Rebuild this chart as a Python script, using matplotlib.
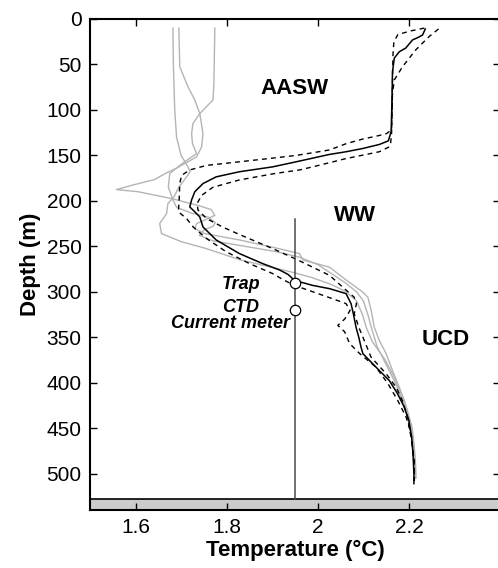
import matplotlib
matplotlib.use("Agg")
import matplotlib.pyplot as plt
import numpy as np

plt.rcParams['font.family'] = ['Liberation Sans', 'DejaVu Sans']

# ---------------- data ----------------
mean_depth = [11, 17.6, 20.6, 23, 32, 36, 43, 58, 87, 124, 134, 138, 142.5, 146, 149, 153, 157,
              162.6, 168, 173.6, 181, 190, 199, 206.7, 212, 217.7, 228.7, 243, 258, 269, 276,
              281, 287.5, 293, 296.6, 302, 313, 324, 339, 350, 361, 368, 383, 397.6, 412, 427,
              441.6, 460, 478, 500, 511]
mean_temp = [2.236, 2.230, 2.219, 2.208, 2.193, 2.179, 2.168, 2.164, 2.163, 2.161, 2.155, 2.135,
             2.098, 2.062, 2.025, 1.989, 1.953, 1.901, 1.828, 1.777, 1.748, 1.730, 1.723, 1.719,
             1.730, 1.741, 1.748, 1.777, 1.828, 1.879, 1.916, 1.935, 1.949, 1.989, 2.026, 2.062,
             2.073, 2.078, 2.084, 2.090, 2.095, 2.099, 2.128, 2.157, 2.175, 2.190, 2.200, 2.206,
             2.209, 2.211, 2.211]

lo_depth = [10, 13, 17, 25, 40, 69, 106, 122, 126, 128, 132, 137, 144, 147, 150, 153, 157, 161,
            166, 172, 181, 196, 212, 219.5, 229, 241.5, 256, 269, 280, 287, 293, 300, 306.5,
            313, 320.5, 330, 337, 344, 357, 368, 383, 401, 420, 438, 456, 471, 489, 508]
lo_temp = [2.234, 2.205, 2.176, 2.167, 2.165, 2.164, 2.163, 2.162, 2.151, 2.136, 2.099, 2.063,
           2.026, 1.990, 1.953, 1.901, 1.829, 1.756, 1.719, 1.701, 1.697, 1.696, 1.694, 1.712,
           1.727, 1.756, 1.799, 1.850, 1.901, 1.925, 1.949, 1.989, 2.026, 2.062, 2.071, 2.059,
           2.044, 2.059, 2.070, 2.092, 2.128, 2.154, 2.176, 2.194, 2.205, 2.208, 2.211, 2.212]

hi_depth = [11, 19.5, 34, 52.5, 67, 82, 126, 136, 140.6, 146, 153.5, 162.6, 166, 170, 177, 185,
            194, 203, 210, 219.5, 229, 237, 252.5, 265, 273, 282, 295, 306, 313, 324, 339,
            353.5, 372, 390, 405, 420, 438, 464, 486, 508]
hi_temp = [2.265, 2.244, 2.215, 2.186, 2.168, 2.164, 2.162, 2.160, 2.157, 2.135, 2.062, 1.989,
           1.960, 1.905, 1.828, 1.770, 1.745, 1.735, 1.737, 1.756, 1.792, 1.828, 1.901, 1.956,
           1.989, 2.026, 2.055, 2.080, 2.085, 2.080, 2.090, 2.102, 2.117, 2.150, 2.172, 2.186,
           2.197, 2.206, 2.212, 2.212]

g1_depth = [10, 50, 100, 130, 150, 160, 168, 175, 185, 195, 203, 214, 225, 236, 245, 252, 258,
            265, 272, 278, 284, 292, 300, 310, 325, 340, 355, 375, 394, 412, 431, 449, 471, 493, 505]
g1_temp = [1.682, 1.683, 1.686, 1.690, 1.700, 1.712, 1.720, 1.710, 1.695, 1.685, 1.671, 1.668,
           1.653, 1.657, 1.701, 1.752, 1.788, 1.830, 1.890, 1.940, 1.985, 2.030, 2.062, 2.085,
           2.098, 2.107, 2.120, 2.148, 2.168, 2.183, 2.197, 2.207, 2.212, 2.215, 2.215]

g2_depth = [10, 30, 52.5, 74.5, 89, 104, 126, 140.6, 151.6, 157, 164, 170, 176.5, 183, 187.6,
            190, 197.5, 205, 209.6, 216, 221, 225, 230.5, 236, 243, 251, 258, 265, 273, 287,
            300, 306, 320, 339, 353.5, 368, 386.6, 405, 419.6, 438, 456, 478, 500, 505]
g2_temp = [1.695, 1.696, 1.697, 1.715, 1.730, 1.741, 1.748, 1.745, 1.734, 1.715, 1.690, 1.665,
           1.642, 1.591, 1.558, 1.606, 1.679, 1.737, 1.766, 1.774, 1.752, 1.734, 1.730, 1.752,
           1.828, 1.901, 1.960, 1.967, 2.026, 2.062, 2.098, 2.110, 2.117, 2.124, 2.135, 2.150,
           2.164, 2.179, 2.190, 2.200, 2.208, 2.212, 2.215, 2.215]

g3_depth = [10, 40, 70, 89, 104, 115, 126, 137, 148, 158, 170, 185, 199, 207, 213, 218, 224,
            228, 232, 238, 244, 250, 256, 262, 270, 280, 290, 300, 310, 325, 340, 360, 380,
            400, 420, 440, 460, 480, 503]
g3_temp = [1.774, 1.773, 1.772, 1.770, 1.741, 1.726, 1.723, 1.725, 1.734, 1.705, 1.675, 1.672,
           1.682, 1.690, 1.720, 1.760, 1.775, 1.770, 1.750, 1.740, 1.770, 1.840, 1.910, 1.960,
           2.000, 2.030, 2.060, 2.085, 2.100, 2.110, 2.118, 2.130, 2.150, 2.170, 2.186, 2.198,
           2.206, 2.212, 2.214]

mooring_temp = 1.95
mooring_top = 220
seafloor_depth = 528
instr_depths = [290, 320]

region_labels = ['AASW', 'WW', 'UCD']
region_x = [1.948, 2.082, 2.281]
region_y = [76, 216, 352]

instr_labels = ['Trap', 'CTD', 'Current meter']
instr_x = [1.832, 1.830, 1.808]
instr_y = [292, 317.5, 335]

xticks = [1.6, 1.8, 2.0, 2.2]
xticklabels = ['1.6', '1.8', '2', '2.2']
yticks = list(range(0, 501, 50))

# ---------------- figure ----------------
fig = plt.figure(figsize=(4.98, 5.68), dpi=100)
ax = fig.add_axes([90/498, 1 - 510/568, 410/498, (510 - 19)/568])

ax.set_xlim(1.5, 2.4)
ax.set_ylim(540, 0)

gray = '#b4b4b4'
for d, t in [(g1_depth, g1_temp), (g2_depth, g2_temp), (g3_depth, g3_temp)]:
    ax.plot(t, d, color=gray, lw=1.0, zorder=2)

ax.plot(lo_temp, lo_depth, color='black', lw=1.0, ls=(0, (3.5, 3)), zorder=3)
ax.plot(hi_temp, hi_depth, color='black', lw=1.0, ls=(0, (3.5, 3)), zorder=3)
ax.plot(mean_temp, mean_depth, color='black', lw=1.1, zorder=4)

# seafloor
ax.axhspan(seafloor_depth, 540, facecolor='#cccccc', edgecolor='none', zorder=1)
ax.axhline(seafloor_depth, color='black', lw=1.2, zorder=1.5)

# mooring
ax.plot([mooring_temp, mooring_temp], [mooring_top, seafloor_depth], color='#4a4a4a', lw=1.1, zorder=5)
ax.plot([mooring_temp] * len(instr_depths), instr_depths, 'o', ms=7.5, mfc='white',
        mec='black', mew=0.9, zorder=6)

for lab, x, y in zip(region_labels, region_x, region_y):
    ax.text(x, y, lab, ha='center', va='center', fontsize=16, fontweight='bold', zorder=7)

for lab, x, y in zip(instr_labels, instr_x, instr_y):
    ax.text(x, y, lab, ha='center', va='center', fontsize=13, fontweight='bold',
            fontstyle='italic', zorder=7)

ax.set_xticks(xticks)
ax.set_xticklabels(xticklabels)
ax.set_yticks(yticks)
ax.tick_params(direction='in', length=5, width=1, top=True, right=True,
               labelsize=15, pad=6)
ax.spines['right'].set_visible(False)
for s in ['left', 'top', 'bottom']:
    ax.spines[s].set_linewidth(1.5)

ax.set_xlabel('Temperature (°C)', fontsize=16, fontweight='bold', labelpad=2)
ax.set_ylabel('Depth (m)', fontsize=16, fontweight='bold', labelpad=4)

fig.savefig('out.png', dpi=100)
